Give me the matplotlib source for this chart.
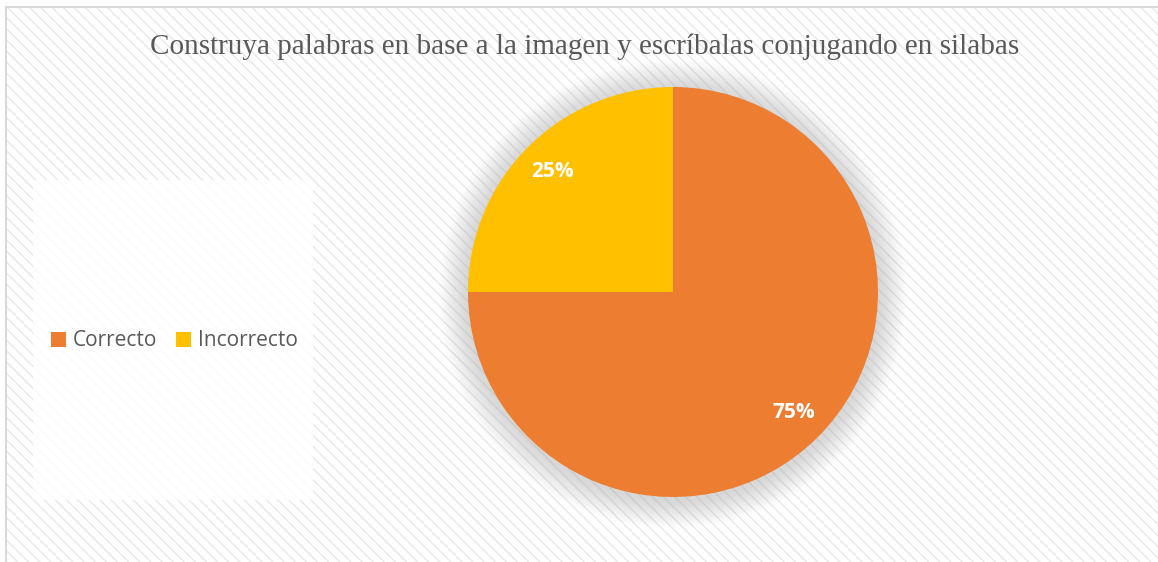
import matplotlib
matplotlib.use("Agg")
import matplotlib.pyplot as plt
from matplotlib.patches import Rectangle, Circle

title = "Construya palabras en base a la imagen y escríbalas conjugando en silabas"
categories = ["Correcto", "Incorrecto"]
values = [75, 25]
colors = ["#ED7D31", "#FFC000"]

W, H = 1158, 562
fig = plt.figure(figsize=(W / 100, H / 100), dpi=100)
fig.patch.set_facecolor("white")

# patterned background with border
bg = Rectangle((6 / W, 0), (W + 10) / W, (H - 7) / H, transform=fig.transFigure,
               facecolor="white", edgecolor="#e8e8e8", hatch="\\\\\\", linewidth=0, zorder=-10)
fig.patches.append(bg)
border = Rectangle((6 / W, -0.01), (W + 10) / W, (H - 7) / H + 0.01, transform=fig.transFigure,
                   facecolor="none", edgecolor="#d9d9d9", linewidth=1.5, zorder=-9)
fig.patches.append(border)

# legend white box
lbox = Rectangle((33 / W, (H - 500) / H), 280 / W, 320 / H, transform=fig.transFigure,
                 facecolor="white", edgecolor="none", alpha=0.85, zorder=-8)
fig.patches.append(lbox)

fig.text(585 / W, 1 - 47 / H, title, ha="center", va="center",
         fontfamily="Liberation Serif", fontsize=21, color="#595959")

cx, cy, r = 673, 292, 205
ax = fig.add_axes([(cx - r) / W, (H - cy - r) / H, 2 * r / W, 2 * r / H])
ax.set_zorder(5)
ax.set_xlim(-1, 1)
ax.set_ylim(-1, 1)
ax.set_aspect("equal")
ax.axis("off")
ax.patch.set_alpha(0)

# soft shadow
for k in range(14):
    rr = 1.0 + 0.01 * (k + 1)
    ax.add_patch(Circle((0.0, -0.01), rr, facecolor="#a0a0a0", alpha=0.03,
                        edgecolor="none", zorder=0, clip_on=False))

wedges, texts, autotexts = ax.pie(values, colors=colors, startangle=90, counterclock=False,
                                  autopct="%1.0f%%", pctdistance=0.83, radius=1.0,
                                  wedgeprops=dict(linewidth=0),
                                  textprops=dict(color="white", fontsize=15,
                                                 fontweight="bold", fontfamily="Open Sans"))
for w in wedges:
    w.set_zorder(3)
for t in autotexts:
    t.set_zorder(4)
ax.set_xlim(-1, 1)
ax.set_ylim(-1, 1)

leg = fig.legend(wedges, categories, loc="center", bbox_to_anchor=(174.5 / W, 1 - 341 / H),
                 ncol=2, frameon=False, handlelength=0.7, handleheight=0.7,
                 handletextpad=0.35, columnspacing=0.9,
                 prop=dict(family="Open Sans", size=15))
leg.set_zorder(6)
for t in leg.get_texts():
    t.set_color("#595959")

fig.savefig("out.png", dpi=100, facecolor="white")
